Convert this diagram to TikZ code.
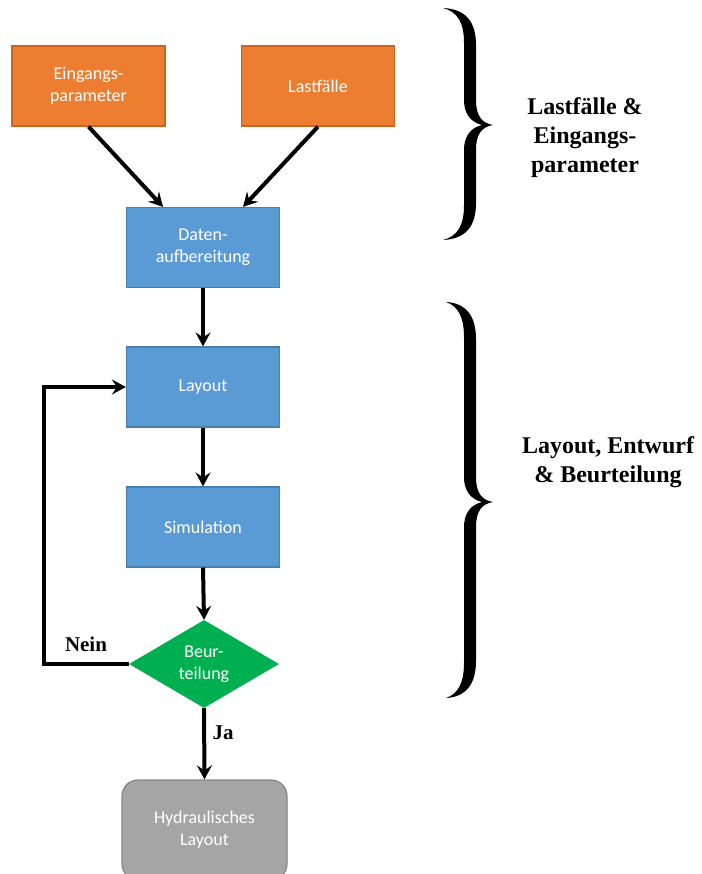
\documentclass[tikz,border=0pt]{standalone}
\usepackage{fontspec}
\setmainfont{Liberation Serif}
\newfontfamily\boxfont{Carlito}
\usetikzlibrary{shapes.geometric,arrows.meta}

\definecolor{orfill}{HTML}{ED7D31}
\definecolor{ordraw}{HTML}{C9651E}
\definecolor{blfill}{HTML}{5B9BD5}
\definecolor{bldraw}{HTML}{4A7EAE}
\definecolor{grfill}{HTML}{00B050}
\definecolor{gyfill}{HTML}{A5A5A5}
\definecolor{gydraw}{HTML}{858585}

% filled curly brace opening to the left: top y, tip y, bottom y, x of the tails
\newcommand\drawcurly[4]{%
  \fill (#4,#1) .. controls (466,{#1+1}) and (476,{#1+14}) .. (476,{#1+37})
    -- (476,{#2-25}) .. controls (476,{#2-10}) and (481,{#2-2}) .. (493,#2)
    .. controls (481,{#2+2}) and (476,{#2+10}) .. (476,{#2+25})
    -- (476,{#3-37}) .. controls (476,{#3-14}) and (466,{#3-1}) .. (#4,#3)
    .. controls (458,{#3-4}) and (464,{#3-15}) .. (464,{#3-35})
    -- (464,{#2+25}) .. controls (464,{#2+12}) and (470,{#2+3}) .. (482,#2)
    .. controls (470,{#2-3}) and (464,{#2-12}) .. (464,{#2-25})
    -- (464,{#1+35}) .. controls (464,{#1+15}) and (458,{#1+4}) .. (#4,#1) -- cycle;}

\tikzset{
  box/.style={rectangle, minimum width=153pt, minimum height=80pt, inner sep=0pt,
    align=center, text=white, font=\boxfont\fontsize{18}{22}\selectfont, line width=1.2pt},
  orangebox/.style={box, fill=orfill, draw=ordraw},
  bluebox/.style={box, fill=blfill, draw=bldraw},
  decision/.style={diamond, aspect=1.7, minimum width=150pt, minimum height=88pt,
    inner sep=0pt, fill=grfill, align=center, text=white,
    font=\boxfont\fontsize{18}{22}\selectfont},
  endbox/.style={box, rounded corners=16pt, fill=gyfill, draw=gydraw,
    minimum width=165pt, minimum height=100pt},
  flow/.style={line width=4pt, line join=miter, -{Stealth[length=14pt,width=15pt,inset=5pt]}},
  sidetext/.style={align=center, font=\fontsize{24}{29}\selectfont\bfseries},
  flowlabel/.style={font=\fontsize{21}{25}\selectfont\bfseries}
}

\begin{document}
\begin{tikzpicture}[x=1pt, y=-1pt]
  \useasboundingbox (0,0) rectangle (701,874);
  \clip (0,0) rectangle (701,874);

  % process nodes
  \node[orangebox] (eing) at (88.5,86) {Eingangs-\\parameter};
  \node[orangebox] (last) at (318,86) {Lastfälle};
  \node[bluebox] (daten) at (203,247.5) {Daten-\\aufbereitung};
  \node[bluebox] (layout) at (203,387) {Layout};
  \node[bluebox] (sim) at (203,527) {Simulation};
  \node[decision] (beur) at (204,664) {Beur-\\teilung};
  \node[endbox] (hyd) at (204.5,830) {Hydraulisches\\Layout};

  % connectors
  \draw[flow] (eing.south) -- ([xshift=-40pt]daten.north);
  \draw[flow] (last.south) -- ([xshift=40pt]daten.north);
  \draw[flow] (daten) -- (layout);
  \draw[flow] (layout) -- (sim);
  \draw[flow] (sim.south) -- (beur.north);
  \draw[flow] (beur.south) -- (hyd.north);
  \draw[flow] (beur.west) -- ++(-85,0) |- (layout.west);

  \node[flowlabel] (nein) at (86,644) {Nein};
  \node[flowlabel] (ja) at (223,733) {Ja};

  % phase braces and their titles
  \drawcurly{8}{125}{240}{443}
  \drawcurly{302}{502}{698}{446}
  \node[sidetext] (phase1) at (585,138) {Lastfälle \&\\Eingangs-\\parameter};
  \node[sidetext] (phase2) at (608,462) {Layout, Entwurf\\\& Beurteilung};
\end{tikzpicture}
\end{document}
